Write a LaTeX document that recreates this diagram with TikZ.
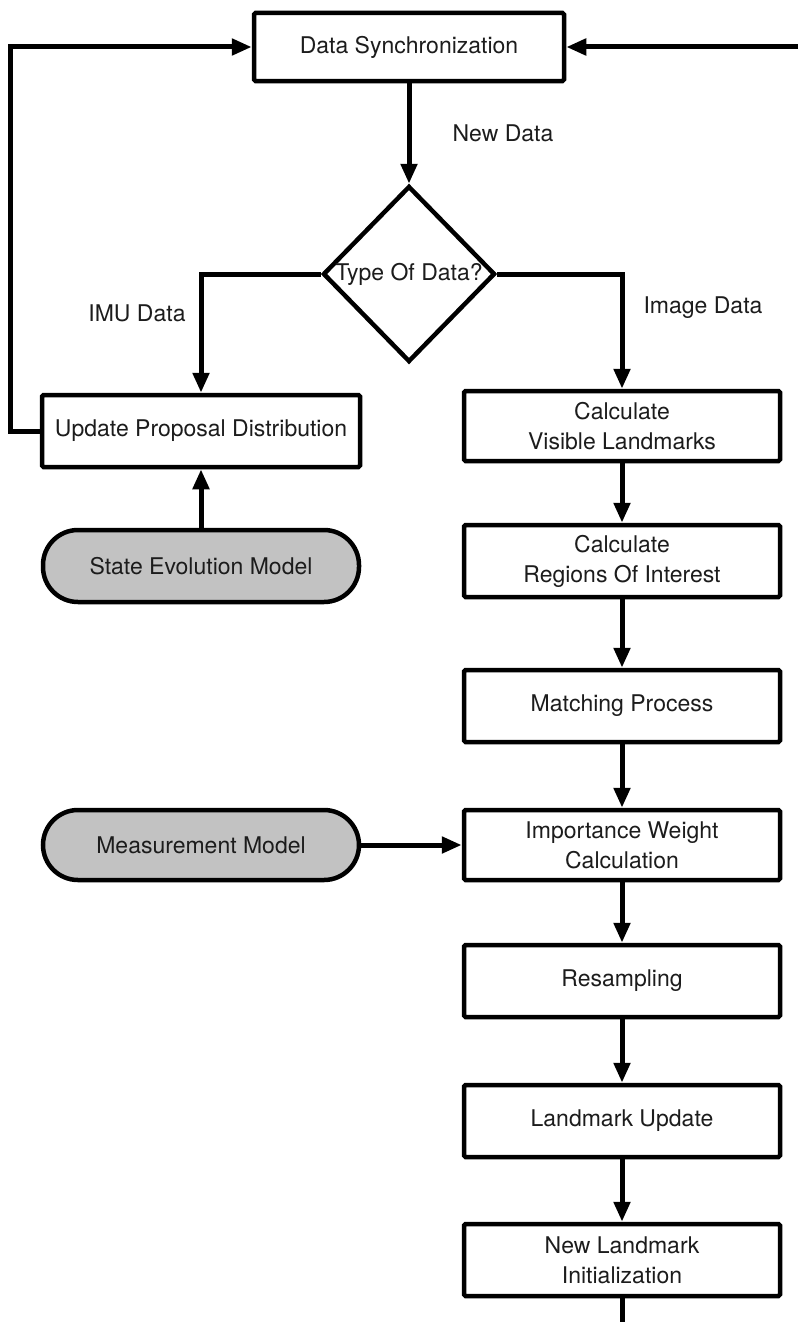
\documentclass[tikz,border=0pt]{standalone}
\usepackage{fontspec}
\setmainfont{TeX Gyre Heros}
\usetikzlibrary{shapes.geometric,arrows.meta}
\definecolor{ink}{HTML}{1C1C1C}
\definecolor{modelgray}{HTML}{C2C2C2}
\begin{document}
\begin{tikzpicture}[x=1pt,y=-1pt,
  every node/.style={font=\fontsize{23}{30}\selectfont, text=ink},
  procbox/.style={draw=black, line width=4.5pt, rounded corners=1.5pt, fill=white,
    minimum width=316pt, minimum height=70pt, inner sep=0pt, align=center},
  modelbox/.style={draw=black, line width=4.5pt, rounded corners=35pt, fill=modelgray,
    minimum width=316pt, minimum height=72pt, inner sep=0pt, align=center},
  decision/.style={draw=black, line width=4.5pt, diamond, fill=white,
    minimum width=172pt, minimum height=176pt, inner sep=0pt},
  flow/.style={draw=black, line width=5pt, line join=miter,
    -{Triangle[length=20pt, width=16pt]}},
  plain/.style={draw=black, line width=5pt, line join=miter},
  edgetext/.style={font=\fontsize{23}{30}\selectfont}
]
\useasboundingbox (0,0) rectangle (798,1322);

% --- main nodes ---
\node[procbox, minimum width=310pt, minimum height=68pt] (sync) at (409,47) {Data Synchronization};
\node[decision, label=center:{Type Of Data?}] (dec) at (409,274) {};

\node[procbox, minimum width=318pt, minimum height=72pt] (upd) at (201,431) {Update Proposal Distribution};
\node[modelbox] (sem) at (201,566) {State Evolution Model};
\node[modelbox, minimum height=70pt] (mm) at (201,845) {Measurement Model};

\node[procbox] (vis)   at (622,426)  {Calculate\\Visible Landmarks};
\node[procbox, minimum height=72pt] (roi)   at (622,561)  {Calculate\\Regions Of Interest};
\node[procbox, minimum height=72pt] (match) at (622,706)  {Matching Process};
\node[procbox] (imp)   at (622,845)  {Importance Weight\\Calculation};
\node[procbox, minimum height=72pt] (res)   at (622,981)  {Resampling};
\node[procbox, minimum height=72pt] (lmu)   at (622,1121) {Landmark Update};
\node[procbox, minimum height=72pt] (nli)   at (622,1260) {New Landmark\\Initialization};

% free ends of the incoming and outgoing lines
\coordinate (input) at (798,47);
\coordinate (output) at (622,1322);

% --- connectors ---
\draw[flow] (sync.south) -- (dec.north);
\draw[flow] (dec.west) -| (upd.north);
\draw[flow] (dec.east) -| (vis.north);
\draw[flow] (upd.west) -- ++(-29,0) |- (sync.west);
\draw[flow] (input) -- (sync.east);
\draw[flow] (sem.north) -- (upd.south);
\draw[flow] (vis.south) -- (roi.north);
\draw[flow] (roi.south) -- (match.north);
\draw[flow] (match.south) -- (imp.north);
\draw[flow] (mm.east) -- (imp.west);
\draw[flow] (imp.south) -- (res.north);
\draw[flow] (res.south) -- (lmu.north);
\draw[flow] (lmu.south) -- (nli.north);
\draw[plain] (nli.south) -- (output);

% --- branch labels ---
\node[edgetext] (lnew)   at (503,133) {New Data};
\node[edgetext] (limu)   at (137,313) {IMU Data};
\node[edgetext] (limage) at (703,308) {Image Data};
\end{tikzpicture}
\end{document}
